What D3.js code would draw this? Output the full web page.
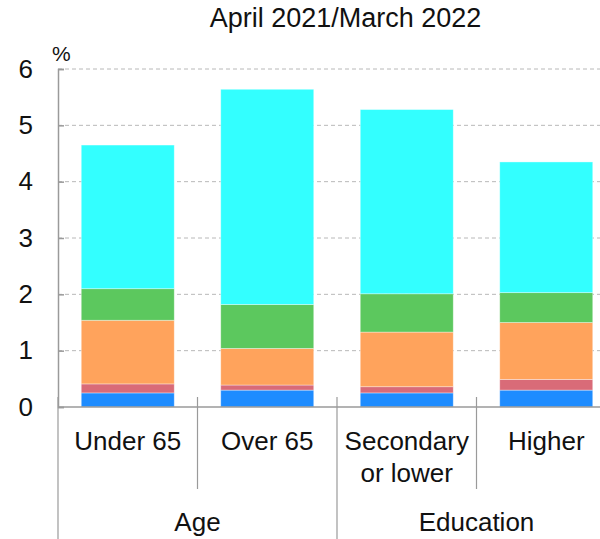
<!DOCTYPE html>
<html>
<head>
<meta charset="utf-8">
<script src="https://cdn.jsdelivr.net/npm/d3@7"></script>
<style>
  html, body { margin: 0; padding: 0; background: #fff; }
  svg { display: block; font-family: "Liberation Sans", Arial, sans-serif; }
</style>
</head>
<body>
<svg id="chart" width="600" height="539"></svg>
<script>
// ---- data ----
const categories = ["Under 65", "Over 65", "Secondary\nor lower", "Higher"];
const groups = [
  { name: "Age", members: ["Under 65", "Over 65"] },
  { name: "Education", members: ["Secondary\nor lower", "Higher"] }
];
const seriesNames = ["s1", "s2", "s3", "s4", "s5"];
const s1 = [0.25, 0.30, 0.25, 0.30];
const s2 = [0.16, 0.09, 0.11, 0.19];
const s3 = [1.13, 0.65, 0.97, 1.01];
const s4 = [0.56, 0.78, 0.68, 0.53];
const s5 = [2.55, 3.82, 3.27, 2.32];
const seriesColors = ["#1E8CFF", "#D96B78", "#FFA35C", "#5CC85E", "#33FFFF"];
const yTicks = [0, 1, 2, 3, 4, 5, 6];
const title = "April 2021/March 2022";
const unitLabel = "%";

// ---- build table ----
const seriesValues = [s1, s2, s3, s4, s5];
const table = categories.map((c, i) => {
  const row = { category: c };
  seriesNames.forEach((s, k) => row[s] = seriesValues[k][i]);
  return row;
});
const stacked = d3.stack().keys(seriesNames)(table);

// ---- layout ----
const svg = d3.select("#chart");
const x0 = 58, x1 = 616, yTop = 69, yBottom = 407;

const x = d3.scaleBand().domain(categories).range([x0, x1])
  .paddingInner(1/3).paddingOuter(1/6);
const y = d3.scaleLinear().domain([0, 6]).range([yBottom, yTop]);
const color = d3.scaleOrdinal().domain(seriesNames).range(seriesColors);

// gridlines
svg.append("g").selectAll("line")
  .data(yTicks.filter(t => t > 0))
  .join("line")
  .attr("x1", x0).attr("x2", 600)
  .attr("y1", d => y(d)).attr("y2", d => y(d))
  .attr("stroke", "#b8b8b8").attr("stroke-width", 1)
  .attr("stroke-dasharray", "4,3");

// bars
svg.append("g").selectAll("g")
  .data(stacked)
  .join("g")
  .attr("fill", d => color(d.key))
  .selectAll("rect")
  .data(d => d)
  .join("rect")
  .attr("x", d => x(d.data.category))
  .attr("width", x.bandwidth())
  .attr("y", d => y(d[1]))
  .attr("height", d => y(d[0]) - y(d[1]))
  .attr("stroke", "rgba(255,255,255,0.45)")
  .attr("stroke-width", 0.8);

// y axis
const yAxis = d3.axisLeft(y).tickValues(yTicks).tickSize(-6).tickPadding(25)
  .tickFormat(d3.format("d"));
const gy = svg.append("g").attr("transform", `translate(${x0},0)`).call(yAxis);
gy.select(".domain").attr("stroke", "#9a9a9a").attr("stroke-width", 1.5);
gy.selectAll(".tick line").attr("stroke", "#9a9a9a").attr("stroke-width", 1.5);
gy.selectAll(".tick text").attr("font-size", 26).attr("fill", "#111")
  .attr("font-family", "Liberation Sans, Arial, sans-serif");

// x axis baseline
svg.append("line")
  .attr("x1", x0).attr("x2", 600).attr("y1", yBottom).attr("y2", yBottom)
  .attr("stroke", "#9a9a9a").attr("stroke-width", 1.5);

// category dividers
const step = x.step();
const boundaries = categories.map(c => x(c) - x.paddingInner() * step / 2);
boundaries.push(x(categories[categories.length - 1]) + x.bandwidth() + x.paddingInner() * step / 2);
const groupStarts = new Set(groups.map(g => g.members[0]));
svg.append("g").selectAll("line")
  .data(boundaries.map((b, i) => ({ b, major: i === categories.length || groupStarts.has(categories[i]) })))
  .join("line")
  .attr("x1", d => d.b).attr("x2", d => d.b)
  .attr("y1", 397)
  .attr("y2", d => d.major ? 539 : 489)
  .attr("stroke", "#9a9a9a").attr("stroke-width", 1.2);

// category labels
svg.append("g").selectAll("text")
  .data(categories)
  .join("text")
  .attr("x", d => x(d) + x.bandwidth() / 2)
  .attr("y", 450)
  .attr("text-anchor", "middle")
  .attr("font-size", 26).attr("fill", "#111")
  .each(function (d) {
    const lines = d.split("\n");
    d3.select(this).selectAll("tspan").data(lines).join("tspan")
      .attr("x", x(d) + x.bandwidth() / 2)
      .attr("dy", (l, i) => i === 0 ? 0 : 31.5)
      .text(l => l);
  });

// group labels
svg.append("g").selectAll("text")
  .data(groups)
  .join("text")
  .attr("x", g => {
    const a = x(g.members[0]), b = x(g.members[g.members.length - 1]) + x.bandwidth();
    return (a + b) / 2;
  })
  .attr("y", 531)
  .attr("text-anchor", "middle")
  .attr("font-size", 26).attr("fill", "#111")
  .text(g => g.name);

// title
svg.append("text")
  .attr("x", 345.5).attr("y", 27)
  .attr("text-anchor", "middle")
  .attr("font-size", 27).attr("fill", "#111")
  .text(title);

// unit label
svg.append("text")
  .attr("x", 52).attr("y", 61)
  .attr("font-size", 21).attr("fill", "#111")
  .text(unitLabel);
</script>
</body>
</html>
